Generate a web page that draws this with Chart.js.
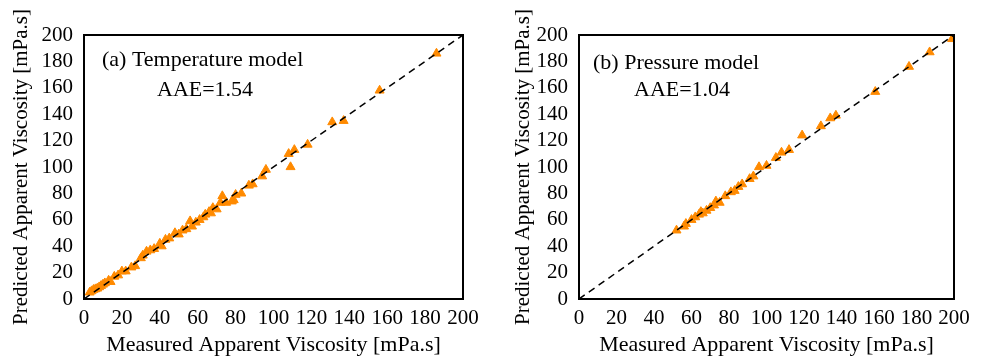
<!DOCTYPE html>
<html>
<head>
<meta charset="utf-8">
<script src="https://cdn.jsdelivr.net/npm/chart.js@4.4.1/dist/chart.umd.min.js"></script>
<style>
  html, body { margin: 0; padding: 0; background: #fff; overflow: hidden; }
  #wrap { position: relative; width: 984px; height: 358px; }
  .pane { position: absolute; top: 0; height: 358px; }
</style>
</head>
<body>
<div id="wrap">
  <div class="pane" style="left:0;width:490px;"><canvas id="c1" width="490" height="358"></canvas></div>
  <div class="pane" style="left:490px;width:494px;"><canvas id="c2" width="494" height="358"></canvas></div>
</div>
<script>
// ---- data ----
const tempMeasured = [3,4,5,6,7,8,9,10,11,13,14,16,18,20,22,25,27,30,31,33,35,37,40,41,43,45,48,50,52,54,56,57,59,61,63,64,66,67,68,70,72,73,75,78,79,80,83,87,89,94,96,108,109,111,118,131,137,156,186];
const tempPredicted = [5,6,7,7.5,8,9,10,11,12,14,13,17,18,21,21,24,25,31,33,36,37,38,42,40,45,46,50,49,52,53,59,55,58,60,62,64,66,65,69,68,73,78,73,74,75,79,80,86,87,93,98,110,100,113,117,134,135,158,186];
const presMeasured = [52,56,57,60,62,64,65,66,68,70,72,73,75,78,81,83,85,87,91,93,96,100,105,108,112,119,129,134,137,158,176,187,199];
const presPredicted = [52,55,57,60,62,64,66,65,67,69,71,74,73,78,81,82,85,87,91,93,100,101,107,111,113,124,131,137,139,157,176,187,197];
const parityX = [0, 200];
const parityY = [0, 200];
const xTitle = "Measured Apparent Viscosity [mPa.s]";
const yTitle = "Predicted Apparent Viscosity [mPa.s]";
const panelLabels = ["(a) Temperature model", "(b) Pressure model"];
const aaeLabels = ["AAE=1.54", "AAE=1.04"];

const FONT = "'Liberation Serif', 'Times New Roman', serif";
const ORANGE = "#FF8A00";

function pts(xs, ys) { return xs.map((x, i) => ({ x: x, y: ys[i] })); }

const boxPlugin = {
  id: 'boxAndText',
  afterDraw(chart, args, opts) {
    const ctx = chart.ctx, a = chart.chartArea;
    ctx.save();
    ctx.strokeStyle = '#000';
    ctx.lineWidth = 2;
    ctx.strokeRect(a.left, a.top, a.right - a.left, a.bottom - a.top);
    ctx.fillStyle = '#000';
    ctx.font = "22px " + FONT;
    ctx.textBaseline = 'alphabetic';
    ctx.textAlign = 'left';
    opts.texts.forEach(t => ctx.fillText(t.text, a.left + t.dx, a.top + t.dy));
    ctx.restore();
  }
};

function makeChart(id, mx, my, yWidth, padRight, yTitlePad, texts) {
  return new Chart(document.getElementById(id), {
    type: 'scatter',
    data: {
      datasets: [
        {
          type: 'line',
          data: pts(parityX, parityY),
          borderColor: '#000',
          borderWidth: 1.5,
          borderDash: [7, 5],
          pointRadius: 0,
          fill: false
        },
        {
          data: pts(mx, my),
          pointStyle: 'triangle',
          pointRadius: 5.2,
          backgroundColor: ORANGE,
          borderColor: ORANGE,
          borderWidth: 1
        }
      ]
    },
    options: {
      responsive: false,
      animation: false,
      devicePixelRatio: 1,
      layout: { padding: { left: 0, right: padRight, top: 35, bottom: 0 } },
      plugins: {
        legend: { display: false },
        tooltip: { enabled: false },
        boxAndText: { texts: texts }
      },
      scales: {
        x: {
          type: 'linear', min: 0, max: 200,
          grid: { display: false, drawTicks: false, tickLength: 0 },
          border: { display: false },
          ticks: { stepSize: 20, autoSkip: false, maxRotation: 0, padding: 7, color: '#000', font: { family: FONT, size: 21 } },
          title: { display: true, text: xTitle, color: '#000', padding: { top: 0, bottom: 0 }, font: { family: FONT, size: 22 } },
          afterFit: s => { s.height = 59; }
        },
        y: {
          type: 'linear', min: 0, max: 200,
          grid: { display: false, drawTicks: false, tickLength: 0 },
          border: { display: false },
          ticks: { stepSize: 20, autoSkip: false, padding: 11, color: '#000', font: { family: FONT, size: 21 } },
          title: { display: true, text: yTitle, color: '#000', padding: { top: yTitlePad, bottom: 0 }, font: { family: FONT, size: 21 } },
          afterFit: s => { s.width = yWidth; }
        }
      }
    },
    plugins: [boxPlugin]
  });
}

makeChart('c1', tempMeasured, tempPredicted, 84, 27, 9,
  [{ text: panelLabels[0], dx: 18, dy: 31 }, { text: aaeLabels[0], dx: 73, dy: 61 }]);
makeChart('c2', presMeasured, presPredicted, 89, 30, 21,
  [{ text: panelLabels[1], dx: 14, dy: 34 }, { text: aaeLabels[1], dx: 55, dy: 61 }]);
</script>
</body>
</html>
